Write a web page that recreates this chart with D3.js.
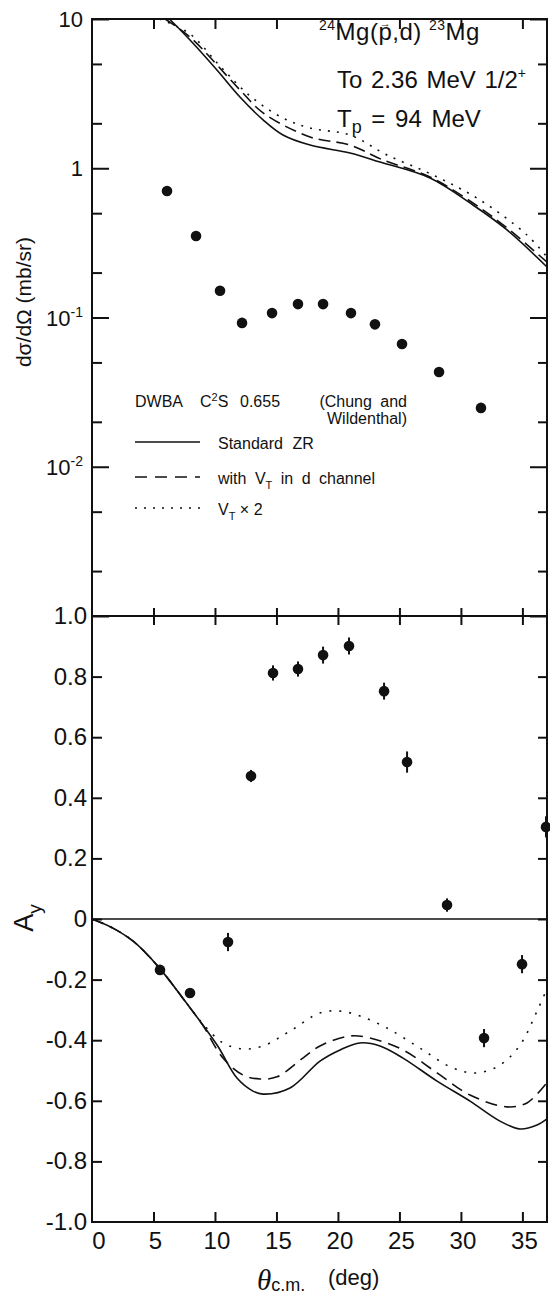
<!DOCTYPE html>
<html>
<head>
<meta charset="utf-8">
<script src="https://cdn.jsdelivr.net/npm/d3@7"></script>
<style>
  body { margin: 0; background: #fff; }
  svg text { font-family: "Liberation Sans", Arial, sans-serif; fill: #111; }
</style>
</head>
<body>
<div id="chart"></div>
<script>
// cross section points (theta c.m. in deg, mb/sr)
var xsTheta = [6.10, 8.46, 10.41, 12.20, 14.64, 16.75, 18.79, 21.06, 23.01, 25.21, 28.22, 31.63];
var xsValue = [0.704, 0.352, 0.151, 0.092, 0.107, 0.123, 0.123, 0.107, 0.090, 0.0665, 0.0431, 0.0248];

// analysing power points
var ayTheta = [5.53, 7.97, 11.06, 12.93, 14.72, 16.75, 18.79, 20.90, 23.75, 25.62, 28.87, 31.88, 34.97, 36.92];
var ayValue = [-0.168, -0.244, -0.076, 0.472, 0.812, 0.825, 0.871, 0.901, 0.752, 0.518, 0.046, -0.393, -0.149, 0.304];
var ayError = [0.015, 0.015, 0.03, 0.02, 0.025, 0.025, 0.028, 0.028, 0.028, 0.035, 0.022, 0.03, 0.03, 0.035];

// DWBA curves, cross section [theta, mb/sr]
var xsSolid = [[6.3, 10], [7.97, 7.23], [10.16, 4.55], [12.03, 3.00], [13.91, 2.11], [15.53, 1.67],
  [17.73, 1.43], [20.98, 1.265], [23.42, 1.10], [27.49, 0.860], [30.98, 0.567], [33.75, 0.386], [37.0, 0.218]];
var xsDashed = [[5.94, 10], [7.97, 7.57], [12.03, 3.35], [13.91, 2.35], [17.73, 1.62], [20.98, 1.43],
  [23.66, 1.136], [27.49, 0.874], [30.98, 0.585], [33.75, 0.398], [37.0, 0.235]];
var xsDotted = [[5.5, 10], [7.97, 7.93], [10.41, 4.84], [12.85, 3.05], [15.53, 2.17], [17.73, 1.86],
  [20.98, 1.67], [23.99, 1.227], [27.73, 0.901], [31.55, 0.613], [35.37, 0.357], [37.0, 0.254]];

// DWBA curves, analysing power [theta, Ay]
var aySolid = [[0, 0], [1.7, -0.03], [3.4, -0.075], [5.4, -0.158], [7.73, -0.28], [10.17, -0.416], [11.79, -0.525],
  [13.09, -0.568], [13.91, -0.578], [16.10, -0.558], [18.54, -0.469], [20.17, -0.432], [21.79, -0.409],
  [23.42, -0.419], [25.29, -0.459], [28.06, -0.535], [30.74, -0.601], [33.18, -0.667], [34.81, -0.693],
  [36.19, -0.680], [37.0, -0.660]];
var ayDashed = [[0, 0], [1.7, -0.03], [3.4, -0.075], [5.4, -0.158], [7.73, -0.28], [9.0, -0.35], [10.65, -0.459],
  [12.28, -0.515], [13.66, -0.528], [15.04, -0.521], [17.15, -0.459], [18.54, -0.419], [20.98, -0.386],
  [22.6, -0.393], [25.29, -0.432], [28.06, -0.508], [30.74, -0.581], [33.75, -0.620], [35.37, -0.607],
  [37.0, -0.54]];
var ayDotted = [[0, 0], [1.7, -0.03], [3.4, -0.075], [5.4, -0.158], [7.73, -0.28], [9.0, -0.345], [10.65, -0.409],
  [12.28, -0.429], [13.91, -0.419], [16.10, -0.370], [18.54, -0.310], [20.17, -0.304], [21.79, -0.320],
  [23.99, -0.360], [26.67, -0.426], [29.35, -0.492], [31.3, -0.508], [33.18, -0.482], [34.81, -0.416],
  [36.19, -0.304], [37.0, -0.23]];

// ticks and tick labels
var xTicks = [5, 10, 15, 20, 25, 30, 35];
var xTickLabels = ["0", "5", "10", "15", "20", "25", "30", "35"];
var topMajor = [10, 1, 0.1, 0.01, 0.001];
var topMinor = [5, 2, 0.5, 0.2, 0.05, 0.02, 0.005, 0.002];
var topLabelVals = [10, 1, 0.1, 0.01];
var topLabelBase = ["10", "1", "10", "10"];
var topLabelSup = ["", "", "-1", "-2"];
var ayTicks = [0.8, 0.6, 0.4, 0.2, 0, -0.2, -0.4, -0.6, -0.8];
var ayLabelVals = [1, 0.8, 0.6, 0.4, 0.2, 0, -0.2, -0.4, -0.6, -0.8, -1];
var ayLabels = ["1.0", "0.8", "0.6", "0.4", "0.2", "0", "-0.2", "-0.4", "-0.6", "-0.8", "-1.0"];

var W = 550, H = 1295;
var pLeft = 92, pRight = 547, pTop = 19, pMid = 616, pBottom = 1222;

var svg = d3.select("#chart").append("svg")
  .attr("width", W).attr("height", H);

// scales
var x = d3.scaleLinear().domain([0, 37]).range([pLeft, pRight]);
var yTop = d3.scaleLog().domain([0.001, 10]).range([pMid, pTop]);
var yAy = d3.scaleLinear().domain([-1, 1]).range([pBottom, pMid]);

// little helper for tick-only axes
function ticks(g) {
  g.select(".domain").remove();
  g.selectAll(".tick line").attr("stroke", "#111").attr("stroke-width", 2);
}

// ----- top panel ticks
svg.append("g").attr("transform", "translate(" + pLeft + ",0)")
  .call(d3.axisRight(yTop).tickValues(topMinor).tickSize(10).tickFormat("")).call(ticks);
svg.append("g").attr("transform", "translate(" + pLeft + ",0)")
  .call(d3.axisRight(yTop).tickValues(topMajor).tickSize(17).tickFormat("")).call(ticks);
svg.append("g").attr("transform", "translate(" + pRight + ",0)")
  .call(d3.axisLeft(yTop).tickValues(topMinor).tickSize(9).tickFormat("")).call(ticks);
svg.append("g").attr("transform", "translate(" + pRight + ",0)")
  .call(d3.axisLeft(yTop).tickValues(topMajor).tickSize(17).tickFormat("")).call(ticks);
svg.append("g").attr("transform", "translate(0," + pTop + ")")
  .call(d3.axisBottom(x).tickValues(xTicks).tickSize(10).tickFormat("")).call(ticks);
// shared line: ticks cross it
svg.append("g").attr("transform", "translate(0," + pMid + ")")
  .call(d3.axisBottom(x).tickValues(xTicks).tickSize(9).tickFormat("")).call(ticks);
svg.append("g").attr("transform", "translate(0," + pMid + ")")
  .call(d3.axisTop(x).tickValues(xTicks).tickSize(8).tickFormat("")).call(ticks);

// ----- bottom panel ticks
svg.append("g").attr("transform", "translate(" + pLeft + ",0)")
  .call(d3.axisRight(yAy).tickValues(ayTicks).tickSize(10).tickFormat("")).call(ticks);
svg.append("g").attr("transform", "translate(" + pRight + ",0)")
  .call(d3.axisLeft(yAy).tickValues(ayTicks).tickSize(9).tickFormat("")).call(ticks);
svg.append("g").attr("transform", "translate(0," + pBottom + ")")
  .call(d3.axisTop(x).tickValues(xTicks).tickSize(10).tickFormat("")).call(ticks);

// frames
svg.append("rect").attr("x", pLeft).attr("y", pTop).attr("width", pRight - pLeft).attr("height", pMid - pTop)
  .attr("fill", "none").attr("stroke", "#111").attr("stroke-width", 2);
svg.append("rect").attr("x", pLeft).attr("y", pMid).attr("width", pRight - pLeft).attr("height", pBottom - pMid)
  .attr("fill", "none").attr("stroke", "#111").attr("stroke-width", 2);

// zero line of Ay
svg.append("line")
  .attr("x1", x(0)).attr("x2", x(37)).attr("y1", yAy(0)).attr("y2", yAy(0))
  .attr("stroke", "#111").attr("stroke-width", 1.3);

// ----- tick labels
var topLab = svg.selectAll("topLabels").data(topLabelVals).enter()
  .append("text")
  .attr("x", 83).attr("y", function(d) { return yTop(d) + 8; })
  .attr("text-anchor", "end")
  .style("font-size", "22px");
topLab.append("tspan").text(function(d, i) { return topLabelBase[i]; });
topLab.append("tspan")
  .attr("dy", -9).style("font-size", "14px")
  .text(function(d, i) { return topLabelSup[i]; });

svg.selectAll("ayLabels").data(ayLabelVals).enter()
  .append("text")
  .attr("x", 87).attr("y", function(d) { return yAy(d) + 8; })
  .attr("text-anchor", "end")
  .style("font-size", "24px")
  .text(function(d, i) { return ayLabels[i]; });

svg.selectAll("xLabels").data([0].concat(xTicks)).enter()
  .append("text")
  .attr("x", function(d) { return x(d) + (d === 0 ? 7 : 2); })
  .attr("y", 1249)
  .attr("text-anchor", "middle")
  .style("font-size", "24px")
  .text(function(d, i) { return xTickLabels[i]; });

// ----- axis titles
svg.append("text")
  .attr("transform", "translate(31,302) rotate(-90)")
  .attr("text-anchor", "middle")
  .style("font-size", "21px")
  .text("d\u03c3/d\u03a9  (mb/sr)");

var ayTitle = svg.append("text")
  .attr("transform", "translate(33,918) rotate(-90)")
  .attr("text-anchor", "middle")
  .style("font-size", "27px");
ayTitle.append("tspan").text("A");
ayTitle.append("tspan").attr("dy", 8).style("font-size", "19px").text("y");

var xTitle = svg.append("text").attr("x", 257).attr("y", 1290);
xTitle.append("tspan").style("font-size", "29px").style("font-style", "italic")
  .style("font-family", "'Liberation Serif', serif").text("\u03b8");
xTitle.append("tspan").attr("dy", 1).style("font-size", "18px").text("c.m.");
xTitle.append("tspan").attr("x", 328).attr("dy", -6).style("font-size", "22px").text("(deg)");

// ----- reaction label
var r1 = svg.append("text").attr("x", 319).attr("y", 40)
  .style("font-size", "24px").style("letter-spacing", "0.5px");
r1.append("tspan").attr("dy", -10).style("font-size", "14px").text("24");
r1.append("tspan").attr("dy", 10).text("Mg(p,d) ");
r1.append("tspan").attr("dy", -10).style("font-size", "14px").text("23");
r1.append("tspan").attr("dy", 10).text("Mg");
// arrow over the p (polarised beam)
var pBox = r1.node().getExtentOfChar(5);
svg.append("text")
  .attr("x", pBox.x + pBox.width / 2).attr("y", pBox.y + 9)
  .attr("text-anchor", "middle")
  .style("font-size", "11px")
  .text("\u2192");

var r2 = svg.append("text").attr("x", 337).attr("y", 88)
  .style("font-size", "24px").style("word-spacing", "2px");
r2.append("tspan").text("To 2.36 MeV 1/2");
r2.append("tspan").attr("dy", -10).style("font-size", "14px").text("+");

var r3 = svg.append("text").attr("x", 337).attr("y", 127).style("font-size", "24px");
r3.append("tspan").text("T");
r3.append("tspan").attr("dy", 6).style("font-size", "18px").text("p");
r3.append("tspan").attr("dy", -6).style("word-spacing", "3px").text(" = 94 MeV");

// ----- legend
var legend = svg.append("g").style("font-size", "16px");
legend.append("text").attr("x", 135).attr("y", 407).text("DWBA");
var c2s = legend.append("text").attr("x", 200).attr("y", 407);
c2s.append("tspan").text("C");
c2s.append("tspan").attr("dy", -6).style("font-size", "11px").text("2");
c2s.append("tspan").attr("dy", 6).text("S");
legend.append("text").attr("x", 240).attr("y", 407).text("0.655");
legend.append("text").attr("x", 407).attr("y", 407).attr("text-anchor", "end")
  .style("word-spacing", "4px").text("(Chung and");
legend.append("text").attr("x", 407).attr("y", 424).attr("text-anchor", "end").text("Wildenthal)");

var legendRows = [
  {y: 442, dash: null},
  {y: 477, dash: "12,8"},
  {y: 508, dash: "2,7"}
];
legend.selectAll("legendLines").data(legendRows).enter()
  .append("line")
  .attr("x1", 135).attr("x2", 200)
  .attr("y1", function(d) { return d.y; }).attr("y2", function(d) { return d.y; })
  .attr("stroke", "#111").attr("stroke-width", 1.6)
  .attr("stroke-dasharray", function(d) { return d.dash; });

legend.append("text").attr("x", 218).attr("y", 449).style("word-spacing", "5px").text("Standard ZR");
var l2 = legend.append("text").attr("x", 218).attr("y", 484).style("word-spacing", "4px");
l2.append("tspan").text("with  V");
l2.append("tspan").attr("dy", 5).style("font-size", "11px").text("T");
l2.append("tspan").attr("dy", -5).text(" in d channel");
var l3 = legend.append("text").attr("x", 218).attr("y", 515);
l3.append("tspan").text("V");
l3.append("tspan").attr("dy", 5).style("font-size", "11px").text("T");
l3.append("tspan").attr("dy", -5).text(" \u00d7 2");

// ----- curves
var topLine = d3.line()
  .x(function(d) { return x(d[0]); })
  .y(function(d) { return yTop(d[1]); })
  .curve(d3.curveCatmullRom.alpha(0.5));
var ayLine = d3.line()
  .x(function(d) { return x(d[0]); })
  .y(function(d) { return yAy(d[1]); })
  .curve(d3.curveCatmullRom.alpha(0.5));

var curves = [
  {data: xsSolid, line: topLine, dash: null},
  {data: xsDashed, line: topLine, dash: "12,6"},
  {data: xsDotted, line: topLine, dash: "2,7"},
  {data: aySolid, line: ayLine, dash: null},
  {data: ayDashed, line: ayLine, dash: "12,7"},
  {data: ayDotted, line: ayLine, dash: "2,8"}
];
svg.selectAll("curves").data(curves).enter()
  .append("path")
  .attr("d", function(d) { return d.line(d.data); })
  .attr("fill", "none")
  .attr("stroke", "#111")
  .attr("stroke-width", 1.6)
  .attr("stroke-dasharray", function(d) { return d.dash; });

// ----- data points
svg.selectAll("xsDots").data(xsTheta).enter()
  .append("circle")
  .attr("cx", function(d) { return x(d); })
  .attr("cy", function(d, i) { return yTop(xsValue[i]); })
  .attr("r", 5.3)
  .attr("fill", "#111");

svg.selectAll("ayBars").data(ayTheta).enter()
  .append("line")
  .attr("x1", function(d) { return x(d); }).attr("x2", function(d) { return x(d); })
  .attr("y1", function(d, i) { return yAy(ayValue[i] - ayError[i]); })
  .attr("y2", function(d, i) { return yAy(ayValue[i] + ayError[i]); })
  .attr("stroke", "#111").attr("stroke-width", 2);

svg.selectAll("ayDots").data(ayTheta).enter()
  .append("circle")
  .attr("cx", function(d) { return x(d); })
  .attr("cy", function(d, i) { return yAy(ayValue[i]); })
  .attr("r", 5.3)
  .attr("fill", "#111");
</script>
</body>
</html>
